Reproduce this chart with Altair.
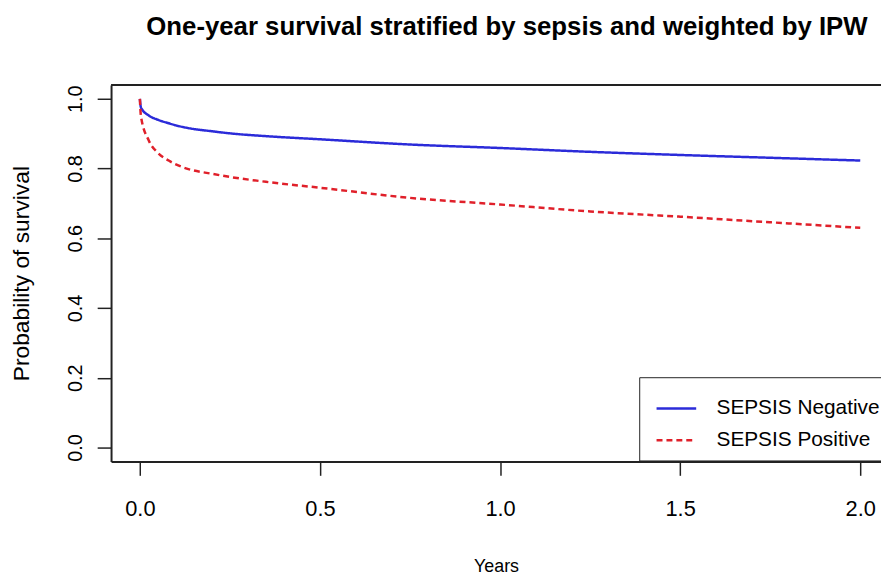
import altair as alt
import pandas as pd

# Hand-read survival curves (years vs probability of survival)
years = [0.0, 0.003, 0.025, 0.05, 0.08, 0.10, 0.13, 0.20, 0.25, 0.35, 0.50,
         0.75, 1.00, 1.25, 1.50, 1.75, 2.00]
sepsis_negative = [1.0, 0.975, 0.952, 0.940, 0.930, 0.924, 0.917, 0.907, 0.901,
                   0.893, 0.884, 0.869, 0.859, 0.848, 0.839, 0.831, 0.823]
sepsis_positive = [1.0, 0.95, 0.88, 0.845, 0.823, 0.812, 0.800, 0.785, 0.776,
                   0.762, 0.745, 0.716, 0.697, 0.677, 0.662, 0.646, 0.630]
groups = ["SEPSIS Negative", "SEPSIS Positive"]
x_ticks = [0.0, 0.5, 1.0, 1.5, 2.0]
y_ticks = [0.0, 0.2, 0.4, 0.6, 0.8, 1.0]

rows = []
for t, v in zip(years, sepsis_negative):
    rows.append({"Years": t, "Survival": v, "Group": groups[0]})
for t, v in zip(years, sepsis_positive):
    rows.append({"Years": t, "Survival": v, "Group": groups[1]})
df = pd.DataFrame(rows)

FONT = "Liberation Sans"
W, H = 777, 380

legend = alt.Legend(
    title=None, orient="none", legendX=533, legendY=295,
    strokeColor="#222", fillColor="white", padding=10,
    symbolType="stroke", symbolSize=1600, symbolStrokeWidth=2.5, symbolOffset=6,
    labelFontSize=21, labelFont=FONT, labelColor="black", labelLimit=400,
    labelOffset=19, rowPadding=-10,
)

lines = alt.Chart(df).mark_line(strokeWidth=2.5, interpolate="monotone", clip=True).encode(
    x=alt.X("Years:Q",
            scale=alt.Scale(domain=[-0.08, 2.0576], nice=False, zero=False),
            axis=alt.Axis(values=x_ticks, format=".1f", title="Years",
                          labelFontSize=22, labelPadding=24, titlePadding=38)),
    y=alt.Y("Survival:Q",
            scale=alt.Scale(domain=[-0.04, 1.04], nice=False, zero=False),
            axis=alt.Axis(values=y_ticks, format=".1f", title="Probability of survival",
                          labelAngle=270, labelAlign="center", labelBaseline="bottom",
                          labelFontSize=20, labelPadding=12, titlePadding=32,
                          titleFontSize=23)),
    color=alt.Color("Group:N", scale=alt.Scale(domain=groups, range=["#2b2bd9", "#e0202a"]),
                    legend=legend),
    strokeDash=alt.StrokeDash("Group:N", scale=alt.Scale(domain=groups, range=[[1, 0], [6, 4]]),
                              legend=legend),
)

top_edge = alt.Chart(pd.DataFrame({"a": [0]})).mark_rule(color="#222", strokeWidth=2).encode(
    x=alt.value(0), x2=alt.value(W), y=alt.value(0)
)

chart = alt.layer(lines, top_edge).properties(
    width=W, height=H,
    title=alt.TitleParams("One-year survival stratified by sepsis and weighted by IPW",
                          font=FONT, fontSize=26, fontWeight="bold", color="black",
                          anchor="middle", frame="group", dx=11, offset=44),
    autosize=alt.AutoSizeParams(type="none"),
    padding={"left": 104, "top": 75, "right": 0, "bottom": 112},
).configure_view(stroke=None).configure_axis(
    grid=False, domainColor="#222", domainWidth=2, tickColor="#222", tickWidth=1.5,
    tickSize=14, labelFont=FONT, labelColor="black",
    titleFont=FONT, titleFontSize=18, titleFontWeight="normal", titleColor="black",
)

chart.save("out.html", embed_options={"renderer": "svg", "actions": False})
